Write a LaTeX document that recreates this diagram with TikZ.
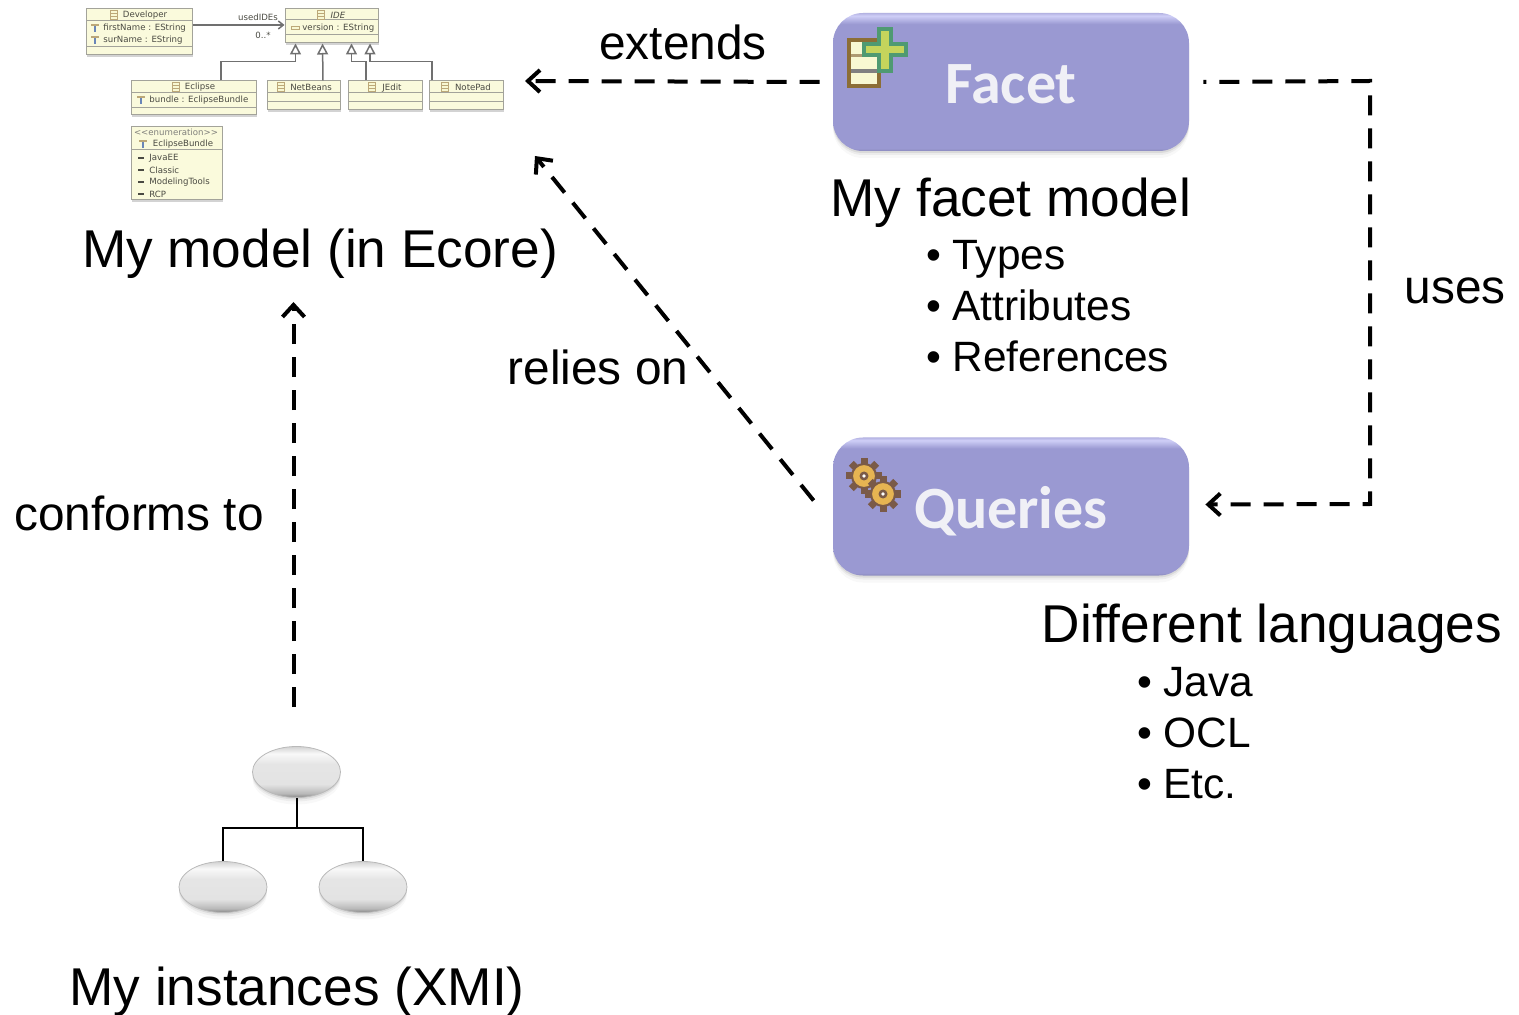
\documentclass[tikz,border=0pt]{standalone}
\usepackage{fontspec}
\setmainfont{Liberation Sans}
\newfontfamily\boxfont{Carlito}
\newfontfamily\umlfont{DejaVu Sans}
\usepackage{tikz}
\usetikzlibrary{arrows.meta,shadows,shapes.geometric}

\definecolor{boxfill}{HTML}{9A99D2}
\definecolor{boxtop}{HTML}{B4B3E2}
\definecolor{boxglow}{HTML}{CFCFF7}
\definecolor{boxfoot}{HTML}{8B8ABC}
\definecolor{boxtext}{HTML}{F0F0F6}
\definecolor{umlfill}{HTML}{FAFADC}
\definecolor{umlrule}{HTML}{A3A39A}
\definecolor{umltext}{HTML}{4A4A42}
\definecolor{umllink}{HTML}{707070}
\definecolor{glyphtan}{HTML}{BCA878}
\definecolor{glyphblue}{HTML}{6A86B8}
\definecolor{facetbrown}{HTML}{8C6E36}
\definecolor{facetcream}{HTML}{F8F8D2}
\definecolor{plusrim}{HTML}{4F9A72}
\definecolor{plusfill}{HTML}{C5D45C}
\definecolor{gearrim}{HTML}{7A5A48}
\definecolor{gearbody}{HTML}{E6B452}

\pgfdeclareverticalshading{buttonshade}{100bp}{color(0bp)=(boxfoot); color(25bp)=(boxfoot); color(26bp)=(boxfill); color(71bp)=(boxfill); color(74bp)=(boxglow); color(75bp)=(boxtop); color(100bp)=(boxtop)}
\pgfdeclareverticalshading{pebbleshade}{100bp}{color(0bp)=(gray); color(25bp)=(gray!95); color(29bp)=(gray!55); color(38bp)=(gray!22); color(58bp)=(gray!20); color(68bp)=(gray!5); color(75bp)=(gray!35); color(100bp)=(gray!35)}

\newcommand{\bul}{\makebox[13pt][l]{\textbullet}}
\newcommand{\classglyph}[2]{
  \draw[glyphtan,line width=.4pt,fill=facetcream] (#1-3.5,#2-4.5) rectangle (#1+3.5,#2+4.5);
  \draw[glyphtan,line width=.4pt] (#1-3.5,#2-1.5) -- (#1+3.5,#2-1.5) (#1-3.5,#2+1.5) -- (#1+3.5,#2+1.5);
}
\newcommand{\attrpin}[2]{
  \fill[glyphtan] (#1-4,#2-4) rectangle (#1+4,#2-1.5);
  \fill[glyphblue] (#1-1,#2-1.5) rectangle (#1+1,#2+4);
}
\newcommand{\gearicon}[2]{
  \foreach \ang in {0,45,90,135}
    \fill[gearrim,rotate around={\ang:(#1,#2)}] (#1-3.5,#2-18) rectangle (#1+3.5,#2+18);
  \fill[gearbody,draw=gearrim,line width=1pt] (#1,#2) circle [radius=12];
  \fill[gearrim] (#1,#2) circle [radius=4.5];
  \fill[white] (#1,#2) circle [radius=1.8];
}

\tikzset{
  softshadow/.style={
    drop shadow={shadow xshift=0pt,shadow yshift=-1pt,opacity=.16},
    drop shadow={shadow xshift=0pt,shadow yshift=-2pt,opacity=.1},
    drop shadow={shadow xshift=0pt,shadow yshift=-3.5pt,opacity=.06}},
  titletext/.style={inner sep=0pt,font=\fontsize{26.6}{30}\selectfont},
  linktext/.style={inner sep=0pt,font=\fontsize{23.9}{28}\selectfont},
  listtext/.style={inner sep=0pt,anchor=west,align=left,font=\fontsize{21.2}{25.5}\selectfont},
  button/.style={rectangle,rounded corners=15pt,minimum width=178pt,minimum height=69pt,inner sep=0pt,
    shading=buttonshade,text=boxtext,font=\boxfont\bfseries\fontsize{30}{32}\selectfont,softshadow},
  pebble/.style={ellipse,minimum width=44pt,minimum height=25.5pt,inner sep=0pt,draw=gray!55,line width=.4pt,
    shading=pebbleshade,softshadow},
  dashlink/.style={line width=2pt,dash pattern=on 10pt off 6.5pt,-{Straight Barb[length=6pt,width=11pt]}},
  classbox/.style={rectangle,draw=umlrule,line width=.5pt,fill=umlfill,inner sep=0pt,
    drop shadow={shadow xshift=.6pt,shadow yshift=-.8pt,opacity=.35}},
  classrule/.style={umlrule,line width=.5pt},
  umllabel/.style={inner sep=0pt,anchor=west,yshift=-.3pt,text=umltext,font=\umlfont\fontsize{4.3}{5}\selectfont},
  umlcentre/.style={inner sep=0pt,yshift=-.3pt,text=umltext,font=\umlfont\fontsize{4.3}{5}\selectfont},
  inherit/.style={umllink,line width=.75pt,-{Triangle[open,length=5.5pt,width=5.5pt]}},
}

\begin{document}
\begin{tikzpicture}[x=.5pt,y=-.5pt]
  \useasboundingbox (0,0) rectangle (1519,1015);

  \node[classbox,minimum width=53pt,minimum height=23pt] (developer) at (139,32) {};
  \node[classbox,minimum width=46.5pt,minimum height=17pt] (ide) at (331.5,26) {};
  \node[classbox,minimum width=62.5pt,minimum height=17pt] (eclipse) at (193.5,98) {};
  \node[classbox,minimum width=36.5pt,minimum height=14.5pt] (netbeans) at (303.5,95.5) {};
  \node[classbox,minimum width=37pt,minimum height=14.5pt] (jedit) at (385,95.5) {};
  \node[classbox,minimum width=37pt,minimum height=14.5pt] (notepad) at (466,95.5) {};
  \node[classbox,minimum width=45.5pt,minimum height=36.5pt] (bundle) at (176.5,163.5) {};

  \draw[classrule] (86,21) -- (192,21) (86,47) -- (192,47);
  \draw[classrule] (285,20) -- (378,20) (285,35) -- (378,35);
  \draw[classrule] (131,93) -- (256,93) (131,108) -- (256,108);
  \draw[classrule] (267,93) -- (340,93) (267,102) -- (340,102);
  \draw[classrule] (348,93) -- (422,93) (348,102) -- (422,102);
  \draw[classrule] (429,93) -- (503,93) (429,102) -- (503,102);
  \draw[classrule] (131,150) -- (222,150);

  \classglyph{114}{15}
  \classglyph{321}{15}
  \classglyph{176}{87}
  \classglyph{281}{87}
  \classglyph{372}{87}
  \classglyph{445}{87}
  \attrpin{95}{28}
  \attrpin{95}{40}
  \attrpin{141}{100}
  \attrpin{143}{144}
  \draw[glyphtan,line width=.5pt,fill=facetcream] (291,26.5) rectangle (299,29.5);

  \node[umlcentre] (developername) at (145,15) {Developer};
  \node[umlcentre] (idename) at (338,15) {\itshape IDE};
  \node[umlcentre] (eclipsename) at (200,87) {Eclipse};
  \node[umlcentre] (netbeansname) at (311,87) {NetBeans};
  \node[umlcentre] (jeditname) at (392,87) {JEdit};
  \node[umlcentre] (notepadname) at (473,87) {NotePad};
  \node[umllabel] (firstname) at (103,28) {firstName : EString};
  \node[umllabel] (surname) at (103,40) {surName : EString};
  \node[umllabel] (version) at (302,28) {version : EString};
  \node[umllabel] (bundleattr) at (149,100) {bundle : EclipseBundle};
  \node[umlcentre,text=umltext!70] (stereotype) at (176,132) {<<enumeration>>};
  \node[umlcentre] (bundlename) at (183,144) {EclipseBundle};
  \foreach \lit/\ypos in {JavaEE/158,Classic/170,ModelingTools/182,RCP/194} {
    \node[umllabel] (lit\ypos) at (149,\ypos) {\lit};
    \fill[umltext] (138,\ypos-.7) rectangle (144,\ypos+.7);
  }

  \draw[umllink,line width=.75pt,-{Straight Barb[length=2.5pt,width=4pt]}] ([yshift=3.5pt]developer.east) -- ([yshift=.5pt]ide.west);
  \node[umlcentre] (usedides) at (258,17) {usedIDEs};
  \node[umlcentre] (multiplicity) at (263,35) {0..*};

  \draw[inherit] ([xshift=13.75pt]eclipse.north) -- ++(0,-19) -| ([xshift=-18pt]ide.south);
  \draw[inherit] ([xshift=9.75pt]netbeans.north) -- ([xshift=-4.5pt]ide.south);
  \draw[inherit] ([xshift=-9.5pt]jedit.north) -- ++(0,-19) -| ([xshift=10pt]ide.south);
  \draw[inherit] ([xshift=-17pt]notepad.north) -- ++(0,-19) -| ([xshift=19.25pt]ide.south);

  \node[button] (facet) at (1011,82) {\raisebox{-11pt}[0pt][0pt]{Facet}};
  \node[button] (queries) at (1011,506.5) {\raisebox{-10.75pt}[0pt][0pt]{Queries}};

  \fill[facetbrown] (847,38) rectangle (881,88);
  \fill[facetcream] (851,42) rectangle (877,84);
  \fill[facetbrown!70] (851,54) rectangle (877,57);
  \fill[gray] (851,69) rectangle (877,73);
  \draw[plusrim,line width=2pt,fill=plusfill] (879,29) -- (891,29) -- (891,44) -- (906,44) -- (906,55) -- (891,55) -- (891,71) -- (879,71) -- (879,55) -- (864,55) -- (864,44) -- (879,44) -- cycle;

  \gearicon{864}{476}
  \gearicon{883}{494}

  \node[pebble] (rootpebble) at (296.5,772) {};
  \node[pebble] (leftpebble) at (223,887) {};
  \node[pebble] (rightpebble) at (363,887) {};
  \coordinate (bus) at (296.5,828);
  \draw[line width=1pt] (rootpebble.south) -- (bus);
  \draw[line width=1pt] (leftpebble.north) |- (bus) -| (rightpebble.north);

  \node[titletext] (modeltitle) at (320,254) {My model (in Ecore)};
  \node[titletext] (facettitle) at (1011,203) {My facet model};
  \node[titletext] (languagestitle) at (1272,629) {Different languages};
  \node[titletext] (instancestitle) at (297,992) {My instances (XMI)};

  \node[listtext] (facetlist) at (926,306.5) {\bul Types\\\bul Attributes\\\bul References};
  \node[listtext] (languagelist) at (1137,733) {\bul Java\\\bul OCL\\\bul Etc.};

  \node[linktext] (extendslabel) at (683,42) {extends};
  \node[linktext] (usesl) at (1455,291) {uses};
  \node[linktext] (relieslabel) at (598,367) {relies on};
  \node[linktext] (conformslabel) at (139,513) {conforms to};

  \coordinate (extendshead) at (525,81);
  \coordinate (reliashead) at (535,156);
  \coordinate (conformshead) at (293.5,302);
  \coordinate (usesbend) at (1370,81);
  \coordinate (useselbow) at (1370,504);

  \draw[dashlink] ([xshift=-6.5pt]facet.west) -- (extendshead);
  \draw[dashlink,dash phase=8.5pt] ([xshift=7pt]facet.east) -- (usesbend) -- (useselbow) -- ([xshift=8pt,yshift=1pt]queries.east);
  \draw[dashlink] ([xshift=-9.5pt,yshift=3pt]queries.west) -- (reliashead);
  \draw[dashlink] ([xshift=-1.5pt,yshift=19.5pt]rootpebble.north) -- (conformshead);
\end{tikzpicture}
\end{document}
